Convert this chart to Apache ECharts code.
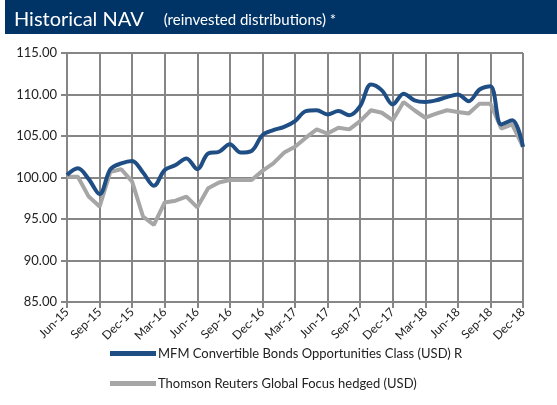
<!DOCTYPE html>
<html>
<head>
<meta charset="utf-8">
<script src="https://cdn.jsdelivr.net/npm/echarts@6/dist/echarts.min.js"></script>
<style>
  html, body { margin: 0; padding: 0; background: #fff; }
  #chart { width: 557px; height: 405px; }
</style>
</head>
<body>
<div id="chart"></div>
<script>
// monthly categories Jun-15 .. Dec-18
var months = [
  "Jun-15","Jul-15","Aug-15","Sep-15","Oct-15","Nov-15","Dec-15",
  "Jan-16","Feb-16","Mar-16","Apr-16","May-16","Jun-16","Jul-16","Aug-16","Sep-16","Oct-16","Nov-16","Dec-16",
  "Jan-17","Feb-17","Mar-17","Apr-17","May-17","Jun-17","Jul-17","Aug-17","Sep-17","Oct-17","Nov-17","Dec-17",
  "Jan-18","Feb-18","Mar-18","Apr-18","May-18","Jun-18","Jul-18","Aug-18","Sep-18","Oct-18","Nov-18","Dec-18"
];

var fundName = "MFM Convertible Bonds Opportunities Class (USD) R";
var fundNav = [
  100.3, 101.1, 99.8, 98.0, 101.0, 101.7, 102.0,
  100.6, 99.0, 100.9, 101.5, 102.3, 101.0, 102.9, 103.1, 104.0, 103.0, 103.2, 105.1,
  105.7, 106.1, 106.8, 108.0, 108.1, 107.6, 108.0, 107.5, 108.6, 111.2, 110.5, 108.8,
  110.1, 109.3, 109.1, 109.3, 109.7, 110.0, 109.2, 110.6, 111.0, 106.4, 106.9, 103.7
];

var benchName = "Thomson Reuters Global Focus hedged (USD)";
var benchNav = [
  100.1, 100.1, 97.7, 96.5, 100.7, 101.0, 99.5,
  95.3, 94.3, 97.0, 97.2, 97.7, 96.4, 98.7, 99.4, 99.7, 99.7, 99.7, 100.8,
  101.7, 103.0, 103.7, 104.8, 105.8, 105.3, 106.0, 105.8, 106.8, 108.1, 107.8, 106.9,
  109.1, 108.1, 107.2, 107.7, 108.1, 107.9, 107.7, 108.9, 108.9, 105.9, 106.4, 103.7
];

var yTicks = [85, 90, 95, 100, 105, 110, 115];

var myChart = echarts.init(document.getElementById("chart"));
var font = "Lato, 'Liberation Sans', sans-serif";

var option = {
  animation: false,
  backgroundColor: "#fff",
  graphic: [
    {
      type: "rect",
      left: 5, top: 0,
      shape: { width: 552, height: 34 },
      style: { fill: "#003366" },
      silent: true
    }
  ],
  title: {
    left: 9, top: 5,
    text: "{a|Historical NAV}    {b|(reinvested distributions) *}",
    textStyle: {
      fontWeight: "normal",
      rich: {
        a: { color: "#fff", fontSize: 20, fontWeight: "normal", fontFamily: font },
        b: { color: "#fff", fontSize: 15, fontWeight: "normal", fontFamily: font }
      }
    }
  },
  legend: {
    orient: "vertical",
    left: 105,
    top: 342,
    itemWidth: 46,
    itemHeight: 5,
    itemGap: 17,
    icon: "rect",
    textStyle: { fontSize: 13, color: "#222", fontFamily: font, padding: [0, 0, 0, -3] },
    data: [fundName, benchName]
  },
  grid: { left: 67, right: 34, top: 53, bottom: 103, containLabel: false },
  xAxis: {
    type: "category",
    data: months,
    boundaryGap: false,
    axisLine: { show: true, lineStyle: { color: "#868686", width: 2 } },
    axisTick: { show: true, interval: 2, length: 6, lineStyle: { color: "#868686", width: 2 } },
    axisLabel: { interval: 2, rotate: 45, fontSize: 12, color: "#222", fontFamily: font, margin: 8 },
    splitLine: { show: true, interval: 2, lineStyle: { color: "#868686", width: 2 } }
  },
  yAxis: {
    type: "value",
    min: yTicks[0],
    max: yTicks[yTicks.length - 1],
    interval: 5,
    axisLine: { show: false },
    axisTick: { show: true, length: 6, lineStyle: { color: "#868686", width: 2 } },
    axisLabel: {
      fontSize: 13, color: "#222", fontFamily: font, margin: 10,
      formatter: function (v) { return v.toFixed(2); }
    },
    splitLine: { show: true, lineStyle: { color: "#868686", width: 2 } }
  },
  series: [
    {
      name: benchName,
      type: "line",
      data: benchNav,
      symbol: "none",
      z: 3,
      itemStyle: { color: "#a6a6a6" },
      lineStyle: { color: "#a6a6a6", width: 4 }
    },
    {
      name: fundName,
      type: "line",
      data: fundNav,
      symbol: "none",
      smooth: 0.35,
      z: 4,
      itemStyle: { color: "#1f4e85" },
      lineStyle: { color: "#1f4e85", width: 4 }
    }
  ]
};

myChart.setOption(option);
window.addEventListener("resize", function () {
  myChart.resize();
});
</script>
</body>
</html>
